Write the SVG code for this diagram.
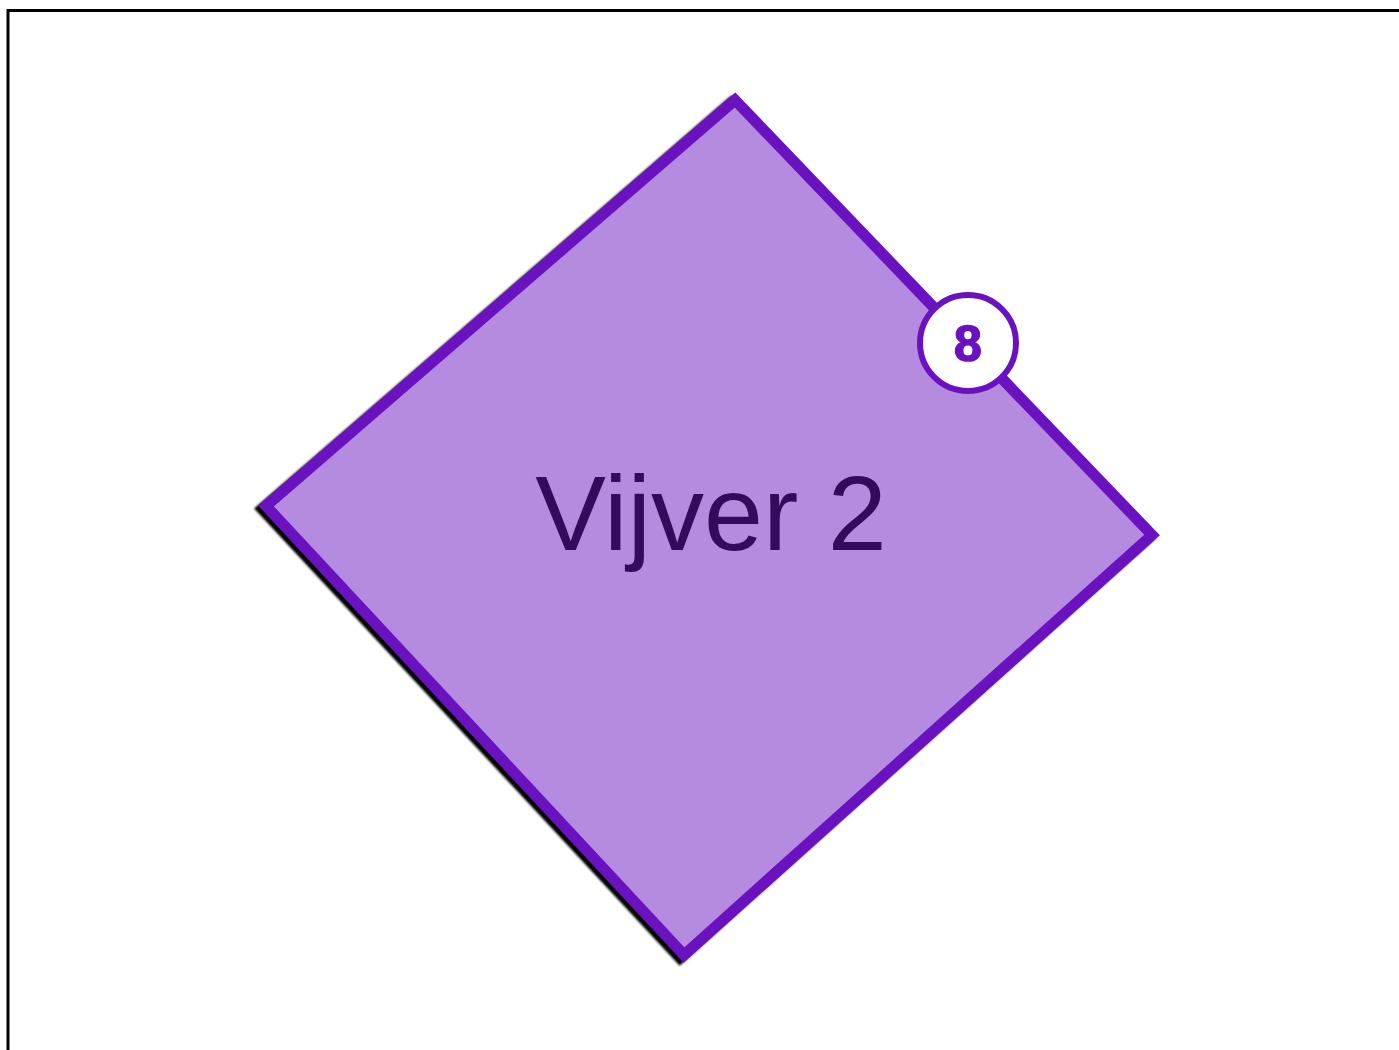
<svg xmlns="http://www.w3.org/2000/svg" width="1399" height="1050" viewBox="0 0 1399 1050">
<defs>
<style>
.frame{fill:none;stroke:#000;stroke-width:3}
.shape{fill:#b48bdf;stroke:#6a12c0;stroke-width:11;stroke-linejoin:miter}
.shadow{fill:none;stroke:#000;stroke-width:11;stroke-linejoin:miter}
.label{font-family:"Liberation Sans",Arial,sans-serif;font-size:106px;fill:#330a5c}
.badge{fill:#fff;stroke:#6a12c0;stroke-width:6}
.badgetxt{font-family:"Liberation Sans",Arial,sans-serif;font-weight:bold;font-size:50px;fill:#6a12c0;stroke:#6a12c0;stroke-width:1.5}
</style>
<filter id="blur" x="-10%" y="-10%" width="120%" height="120%"><feGaussianBlur stdDeviation="1"/></filter>
</defs>
<rect class="frame" x="8" y="10.5" width="1400" height="1050"/>
<g id="node-vijver2">
<polygon class="shadow" filter="url(#blur)" points="731,103 262,509 680,958 1148,538"/>
<polygon class="shape" points="735,100 266,506 684,955 1152,535"/>
<text class="label" x="711" y="550" text-anchor="middle">Vijver 2</text>
</g>
<g id="badge-8">
<circle class="badge" cx="968" cy="343" r="48"/>
<text class="badgetxt" x="968" y="361" text-anchor="middle">8</text>
</g>
<g id="connectors"></g>
</svg>
